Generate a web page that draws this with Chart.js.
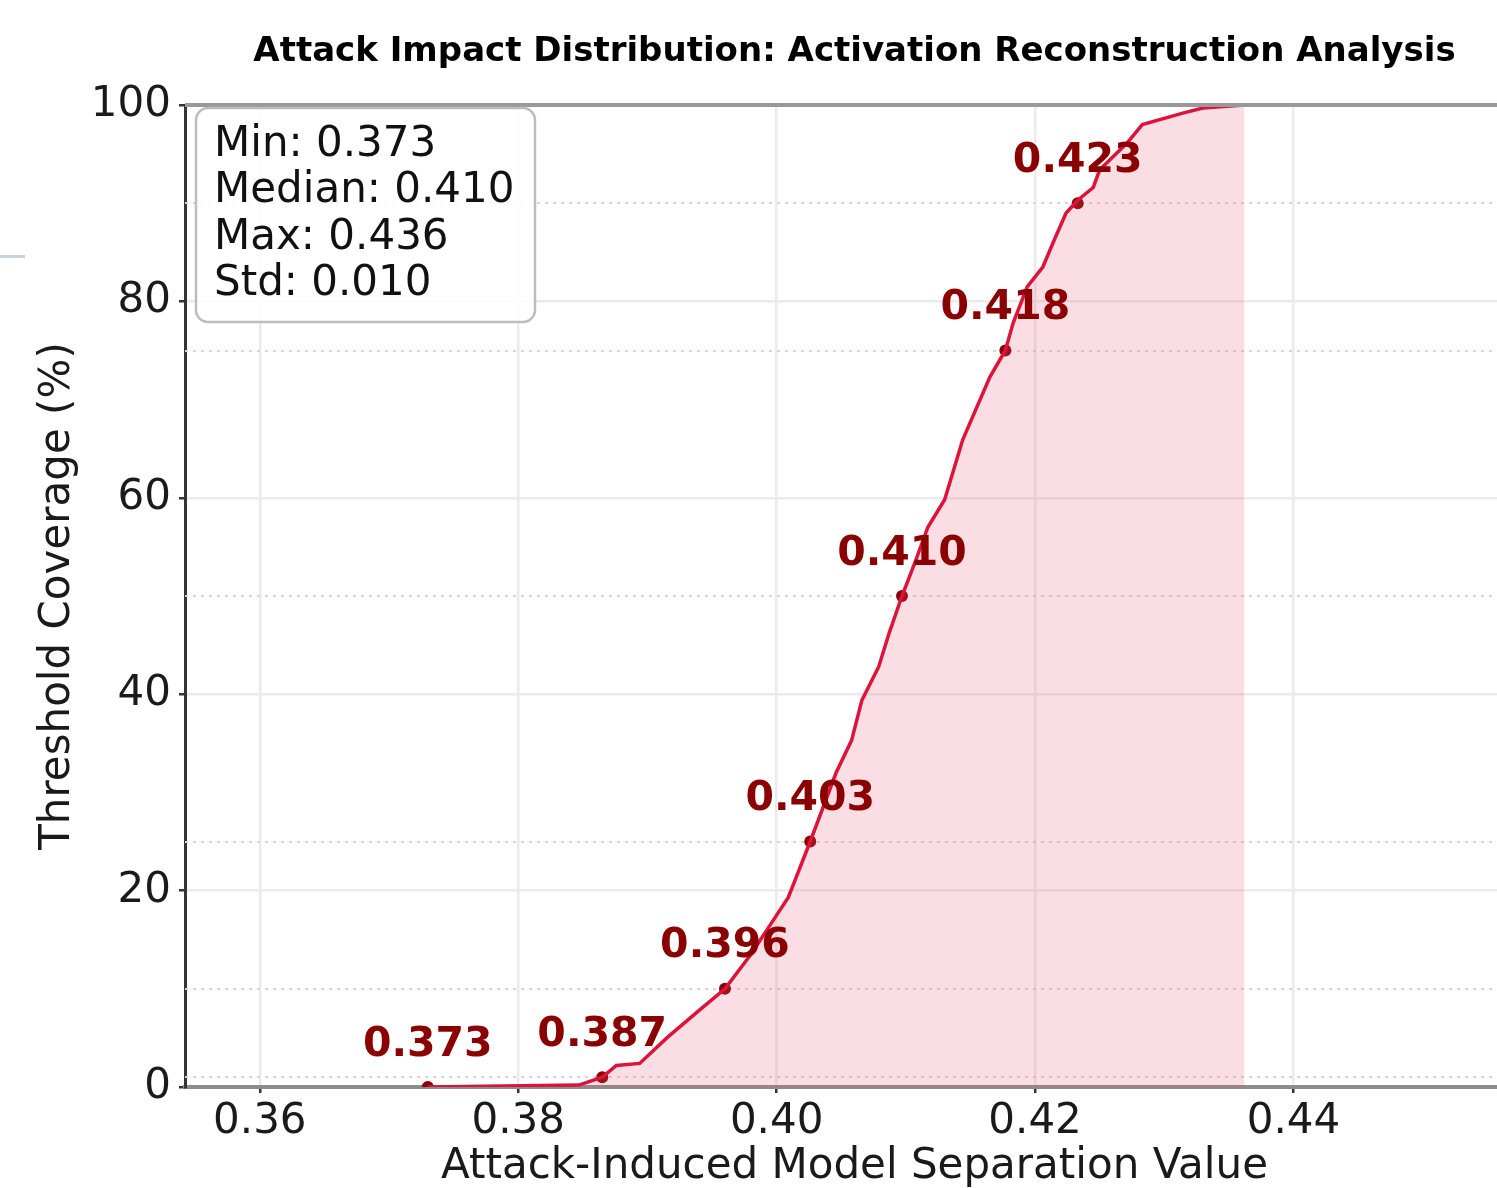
<!DOCTYPE html>
<html lang="en">
<head>
<meta charset="UTF-8">
<title>Attack Impact Distribution</title>
<script src="https://cdn.jsdelivr.net/npm/chart.js"></script>
<style>
  body { margin: 0; overflow: hidden; background: #fff; }
  #stray { position: absolute; left: 0; top: 255px; width: 25px; height: 3px; background: #c5d2e2; }
</style>
</head>
<body>
<canvas id="cdfChart" width="1530" height="1188"></canvas>
<div id="stray"></div>
<script>
const cdfValues = [0.373, 0.3847, 0.3865, 0.3876, 0.3894, 0.3915, 0.394, 0.396, 0.398, 0.400, 0.4009, 0.4026,
  0.4046, 0.4058, 0.4066, 0.4079, 0.4087, 0.4097, 0.4107, 0.4117, 0.4130, 0.4144, 0.4165, 0.4177, 0.4183,
  0.4194, 0.4206, 0.4215, 0.4224, 0.4233, 0.4245, 0.4250, 0.4271, 0.4283, 0.4315, 0.4330, 0.4362];
const cdfPercent = [0, 0.2, 1, 2.2, 2.4, 5.0, 7.8, 10, 13.5, 17.5, 19.3, 25,
  32, 35.3, 39.4, 42.8, 46.2, 50, 53.4, 57, 59.8, 65.9, 72.3, 75, 77.8,
  81.5, 83.5, 86.3, 89, 90.3, 91.6, 93.4, 96.1, 98, 99.2, 99.7, 100];

// labelled percentiles
const markValues = [0.373, 0.3865, 0.396, 0.4026, 0.4097, 0.4177, 0.4233];
const markPercent = [0, 1, 10, 25, 50, 75, 90];
const markLabels = ['0.373', '0.387', '0.396', '0.403', '0.410', '0.418', '0.423'];

// dotted reference lines
const refPercent = [1, 10, 25, 50, 75, 90];

const xTicks = [0.36, 0.38, 0.40, 0.42, 0.44];
const yTicks = [0, 20, 40, 60, 80, 100];

const statLines = ['Min: 0.373', 'Median: 0.410', 'Max: 0.436', 'Std: 0.010'];

Chart.defaults.font.family = "'DejaVu Sans', sans-serif";
Chart.defaults.color = '#1a1a1a';

const extras = {
    id: 'extras',
    beforeDatasetsDraw(chart) {
        const { ctx, chartArea: a, scales: { y } } = chart;
        ctx.save();
        ctx.strokeStyle = '#d6d6d6';
        ctx.lineWidth = 2;
        ctx.setLineDash([3, 5]);
        refPercent.forEach(p => {
            const py = Math.round(y.getPixelForValue(p));
            ctx.beginPath();
            ctx.moveTo(a.left, py);
            ctx.lineTo(a.right, py);
            ctx.stroke();
        });
        ctx.restore();
    },
    afterDatasetsDraw(chart) {
        const { ctx, chartArea: a, scales: { x, y } } = chart;
        ctx.save();
        // top spine
        ctx.strokeStyle = '#999';
        ctx.lineWidth = 4;
        ctx.beginPath();
        ctx.moveTo(a.left, a.top);
        ctx.lineTo(a.right, a.top);
        ctx.stroke();

        // percentile labels
        ctx.fillStyle = '#8B0000';
        ctx.font = "bold 41px 'DejaVu Sans'";
        ctx.textAlign = 'center';
        ctx.textBaseline = 'middle';
        markValues.forEach((v, i) => {
            ctx.fillText(markLabels[i], x.getPixelForValue(v), y.getPixelForValue(markPercent[i]) - 42);
        });

        // stats box
        const bx = a.left + 11, by = a.top + 3, bw = 339, bh = 214;
        ctx.beginPath();
        ctx.roundRect(bx, by, bw, bh, 12);
        ctx.fillStyle = 'rgba(255,255,255,0.85)';
        ctx.fill();
        ctx.strokeStyle = '#bdbdbd';
        ctx.lineWidth = 2.5;
        ctx.stroke();
        ctx.fillStyle = '#111';
        ctx.font = "42px 'DejaVu Sans'";
        ctx.textAlign = 'left';
        statLines.forEach((t, i) => ctx.fillText(t, bx + 18, by + 37 + i * 46.5));

        // title
        ctx.fillStyle = '#000';
        ctx.font = "bold 34px 'DejaVu Sans'";
        ctx.textAlign = 'center';
        ctx.fillText('Attack Impact Distribution: Activation Reconstruction Analysis', (a.left + a.right) / 2, 52);
        ctx.restore();
    }
};

new Chart(document.getElementById('cdfChart'), {
    type: 'scatter',
    data: {
        datasets: [{
            data: cdfValues.map((v, i) => ({ x: v, y: cdfPercent[i] })),
            showLine: true,
            borderColor: '#DC143C',
            borderWidth: 3.5,
            backgroundColor: 'rgba(237, 90, 120, 0.2)',
            fill: 'origin',
            pointRadius: 0,
            tension: 0
        }, {
            data: markValues.map((v, i) => ({ x: v, y: markPercent[i] })),
            pointRadius: 6,
            pointBackgroundColor: '#8B0000',
            pointBorderWidth: 0
        }]
    },
    options: {
        responsive: false,
        animation: false,
        layout: { padding: { left: 0, top: 105, right: 3, bottom: 0 } },
        plugins: { legend: { display: false }, tooltip: { enabled: false } },
        scales: {
            x: {
                type: 'linear',
                min: 0.35421,
                max: 0.45784,
                afterBuildTicks: s => { s.ticks = xTicks.map(v => ({ value: v })); },
                afterFit: s => { s.height = 101; },
                ticks: { font: { size: 42 }, padding: 4, callback: v => v.toFixed(2) },
                grid: { color: '#ebebeb', lineWidth: 2.5, tickColor: '#333', tickLength: 6 },
                border: { color: '#8c8c8c', width: 4 },
                title: { display: true, text: 'Attack-Induced Model Separation Value', font: { size: 42, lineHeight: 1 }, padding: 0 }
            },
            y: {
                min: 0,
                max: 100,
                afterBuildTicks: s => { s.ticks = yTicks.map(v => ({ value: v })); },
                afterFit: s => { s.width = 185; },
                ticks: { font: { size: 42 }, padding: 8 },
                grid: { color: '#ebebeb', lineWidth: 2.5, tickColor: '#333', tickLength: 6 },
                border: { color: '#333', width: 3 },
                title: { display: true, text: 'Threshold Coverage (%)', font: { size: 42, lineHeight: 1 }, padding: { top: 37, bottom: 0 } }
            }
        }
    },
    plugins: [extras]
});
</script>
</body>
</html>
